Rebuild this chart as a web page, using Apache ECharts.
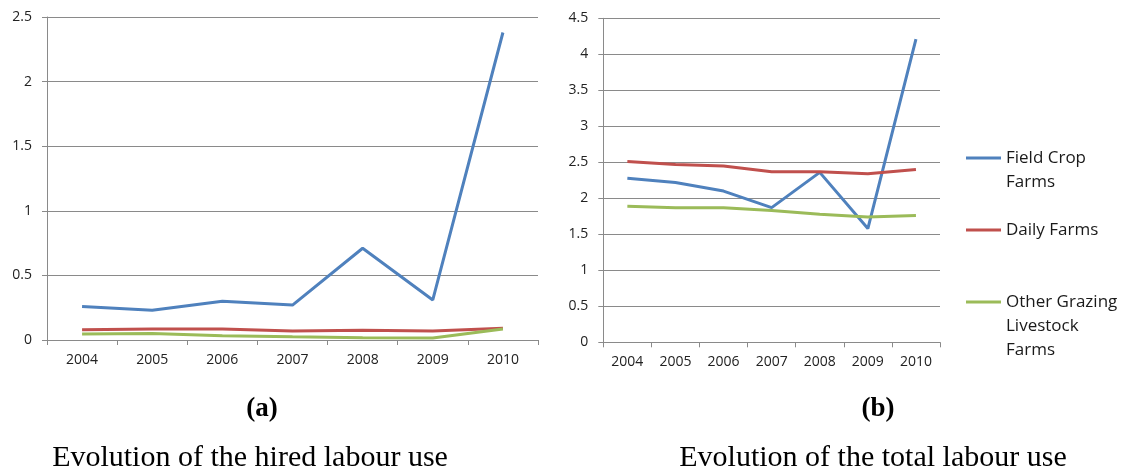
<!DOCTYPE html>
<html>
<head>
<meta charset="utf-8">
<title>Evolution of labour use</title>
<script src="https://cdn.jsdelivr.net/npm/echarts@6/dist/echarts.min.js"></script>
<style>
  html, body { margin: 0; padding: 0; background: #fff; }
  #chart { width: 1123px; height: 473px; }
</style>
</head>
<body>
<div id="chart"></div>
<script>
// Years on both category axes
const years = ['2004', '2005', '2006', '2007', '2008', '2009', '2010'];

// (a) hired labour use
const hiredFieldCrop = [0.26, 0.23, 0.30, 0.27, 0.71, 0.31, 2.38];
const hiredDaily = [0.08, 0.085, 0.085, 0.07, 0.075, 0.07, 0.09];
const hiredOtherGrazing = [0.047, 0.05, 0.033, 0.025, 0.018, 0.015, 0.085];

// (b) total labour use
const totalFieldCrop = [2.28, 2.22, 2.10, 1.87, 2.36, 1.58, 4.21];
const totalDaily = [2.51, 2.47, 2.45, 2.37, 2.37, 2.34, 2.40];
const totalOtherGrazing = [1.89, 1.87, 1.87, 1.83, 1.78, 1.74, 1.76];

const seriesNames = ['Field Crop Farms', 'Daily Farms', 'Other Grazing Livestock Farms'];
// Leading blank lines keep the legend swatch level with the first text line
const legendLabels = {
  'Field Crop Farms': '\nField Crop\nFarms',
  'Daily Farms': 'Daily Farms',
  'Other Grazing Livestock Farms': '\n\nOther Grazing\nLivestock\nFarms'
};
const colors = ['#4F81BD', '#C0504D', '#9BBB59'];

const axisFont = 'Open Sans';
const gridColor = '#8a8a8a';
const labelColor = '#222';

function xAxisFor(gridIndex) {
  return {
    type: 'category',
    gridIndex,
    data: years,
    boundaryGap: true,
    axisLine: { show: true, lineStyle: { color: gridColor, width: 1 } },
    axisTick: { show: true, length: 5, lineStyle: { color: gridColor } },
    axisLabel: { color: labelColor, fontFamily: axisFont, fontSize: 14, margin: 13 }
  };
}

function yAxisFor(gridIndex, max) {
  return {
    type: 'value',
    gridIndex,
    min: 0,
    max,
    interval: 0.5,
    axisLine: { show: true, lineStyle: { color: gridColor, width: 1 } },
    axisTick: { show: true, length: 5, lineStyle: { color: gridColor } },
    splitLine: { show: true, lineStyle: { color: gridColor, width: 1 } },
    axisLabel: { color: labelColor, fontFamily: axisFont, fontSize: 14, margin: 15 }
  };
}

function lineSeries(name, data, idx, axisIndex) {
  return {
    name,
    type: 'line',
    xAxisIndex: axisIndex,
    yAxisIndex: axisIndex,
    data,
    symbol: 'none',
    smooth: false,
    lineStyle: { color: colors[idx], width: 3 },
    itemStyle: { color: colors[idx] },
    animation: false
  };
}

// One legend block per series so each can sit at its own height
function legendFor(name, top) {
  return {
    data: [name],
    left: 966,
    top,
    padding: 0,
    orient: 'vertical',
    icon: 'rect',
    itemWidth: 35,
    itemHeight: 3,
    formatter: (n) => legendLabels[n],
    textStyle: {
      color: '#1a1a1a',
      fontFamily: axisFont,
      fontSize: 17,
      lineHeight: 24
    }
  };
}

const chart = echarts.init(document.getElementById('chart'), null, { renderer: 'canvas' });

chart.setOption({
  backgroundColor: '#ffffff',
  animation: false,
  grid: [
    { left: 47, top: 17, width: 491, height: 323, containLabel: false },
    { left: 603.3, top: 18.3, width: 336.7, height: 324, containLabel: false }
  ],
  xAxis: [xAxisFor(0), xAxisFor(1)],
  yAxis: [yAxisFor(0, 2.5), yAxisFor(1, 4.5)],
  legend: [
    legendFor(seriesNames[0], 122),
    legendFor(seriesNames[1], 218),
    legendFor(seriesNames[2], 242)
  ],
  series: [
    lineSeries(seriesNames[0], hiredFieldCrop, 0, 0),
    lineSeries(seriesNames[1], hiredDaily, 1, 0),
    lineSeries(seriesNames[2], hiredOtherGrazing, 2, 0),
    lineSeries(seriesNames[0], totalFieldCrop, 0, 1),
    lineSeries(seriesNames[1], totalDaily, 1, 1),
    lineSeries(seriesNames[2], totalOtherGrazing, 2, 1)
  ],
  graphic: [
    { type: 'text', x: 262, y: 409, style: { text: '(a)', align: 'center', verticalAlign: 'middle', font: 'bold 27px "Liberation Serif"', fill: '#000' } },
    { type: 'text', x: 878, y: 409, style: { text: '(b)', align: 'center', verticalAlign: 'middle', font: 'bold 27px "Liberation Serif"', fill: '#000' } },
    { type: 'text', x: 250, y: 458, style: { text: 'Evolution of the hired labour use', align: 'center', verticalAlign: 'middle', font: '30px "Liberation Serif"', fill: '#000' } },
    { type: 'text', x: 873, y: 458, style: { text: 'Evolution of the total labour use', align: 'center', verticalAlign: 'middle', font: '30px "Liberation Serif"', fill: '#000' } }
  ]
});
</script>
</body>
</html>
